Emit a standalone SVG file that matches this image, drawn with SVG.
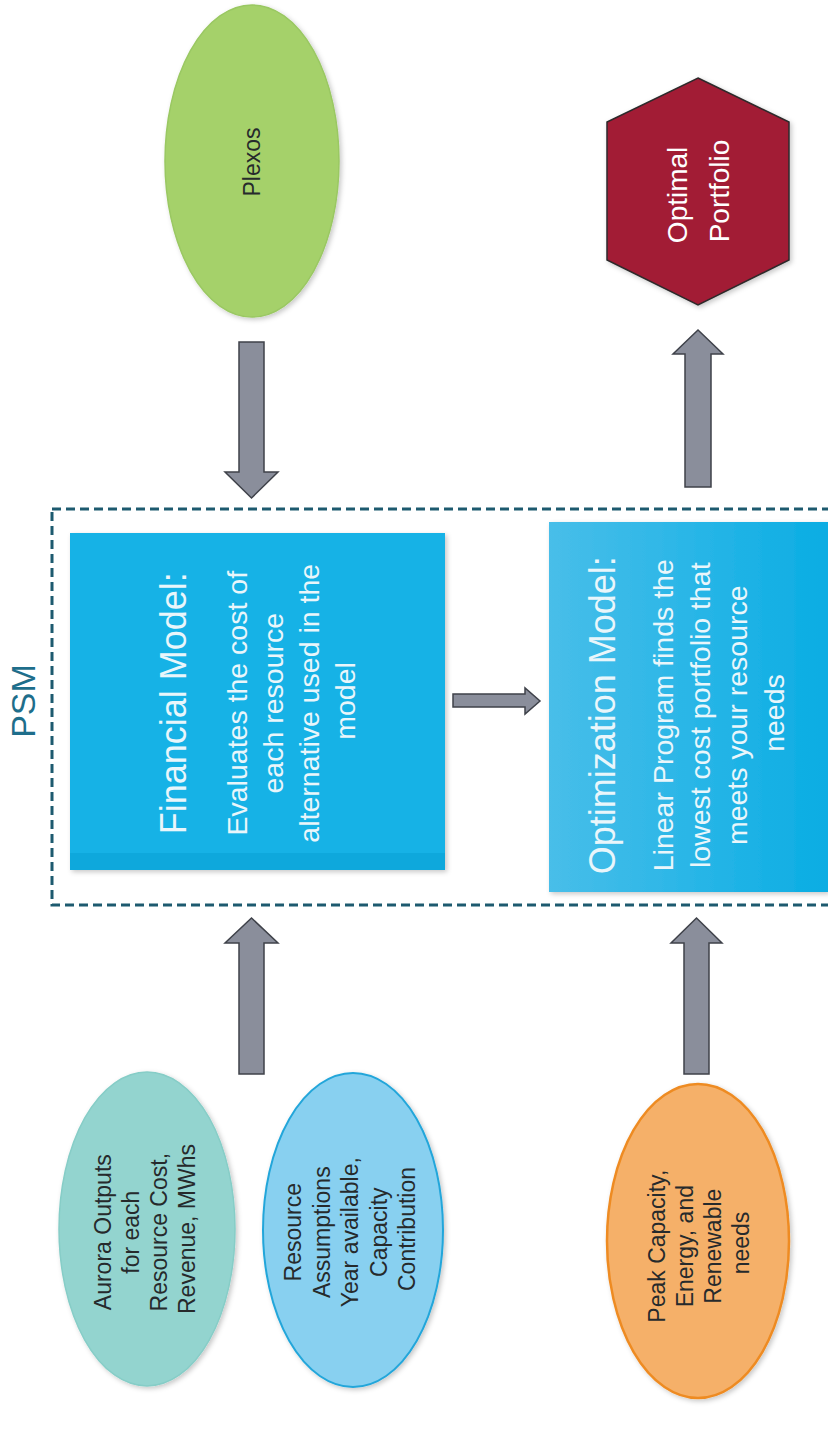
<svg xmlns="http://www.w3.org/2000/svg" width="828" height="1450" viewBox="0 0 828 1450">
  <style>
    .lbl { font-family: "Liberation Sans", Arial, sans-serif; text-anchor: middle; }
    .dark { fill: #262a2c; font-size: 23px; }
    .white { fill: #ffffff; }
    .boxtxt { fill: #e9f6fb; }
    .title { font-size: 36px; }
    .body { font-size: 28.5px; }
    .arrow { fill: #8a8e9b; stroke: #3f424a; stroke-width: 1.5; stroke-linejoin: miter; }
  </style>
  <defs>
    <filter id="sh" x="-20%" y="-20%" width="140%" height="140%">
      <feDropShadow dx="2" dy="2" stdDeviation="2.5" flood-color="#000" flood-opacity="0.22"/>
    </filter>
    <linearGradient id="optg" x1="0" y1="0" x2="1" y2="0">
      <stop offset="0" stop-color="#48bee9"/>
      <stop offset="0.5" stop-color="#2ab6e7"/>
      <stop offset="1" stop-color="#0aade3"/>
    </linearGradient>
  </defs>
  <rect width="828" height="1450" fill="#ffffff"/>

  <!-- PSM container -->
  <g id="psm">
    <rect x="52" y="509" width="800" height="396" fill="none" stroke="#1d5a6f" stroke-width="3" stroke-dasharray="9 5"/>
    <text class="lbl" transform="translate(0,701) rotate(-90)" x="0" y="35" font-size="34" fill="#1e6e8b">PSM</text>
  </g>

  <!-- Plexos -->
  <g id="plexos">
    <ellipse cx="252" cy="161" rx="87" ry="156" fill="#a5d16b" stroke="#9ac862" stroke-width="1.5" filter="url(#sh)"/>
    <text class="lbl dark" transform="translate(0,162) rotate(-90)" x="0" y="260">Plexos</text>
  </g>

  <!-- Optimal Portfolio -->
  <g id="optimal">
    <polygon points="698,78 789,122 789,260 698,305 607,260 607,122" fill="#a21b36" stroke="#2d2a2b" stroke-width="1.5" filter="url(#sh)"/>
    <text class="lbl white" transform="translate(0,191) rotate(-90)" font-size="28">
      <tspan x="0" y="687">Optimal</tspan>
      <tspan x="0" y="729">Portfolio</tspan>
    </text>
  </g>

  <!-- Financial Model -->
  <g id="financial">
    <rect x="70" y="533" width="375" height="337" fill="#12b2e6" filter="url(#sh)"/>
    <rect x="70" y="853" width="375" height="17" fill="#0ea8dc"/>
    <text class="lbl boxtxt" transform="translate(0,701) rotate(-90)">
      <tspan class="title" x="0" y="186">Financial Model:</tspan>
      <tspan class="body" x="0" y="247">Evaluates  the cost of</tspan>
      <tspan class="body" x="0" y="283">each resource</tspan>
      <tspan class="body" x="0" y="319">alternative used in the</tspan>
      <tspan class="body" x="0" y="355">model</tspan>
    </text>
  </g>

  <!-- Optimization Model -->
  <g id="optimization">
    <rect x="549" y="522" width="279" height="370" fill="url(#optg)" filter="url(#sh)"/>
    <text class="lbl boxtxt" transform="translate(0,713) rotate(-90)">
      <tspan class="title" x="0" y="615">Optimization Model:</tspan>
      <tspan class="body" x="0" y="673">Linear Program finds the</tspan>
      <tspan class="body" x="0" y="710">lowest cost portfolio that</tspan>
      <tspan class="body" x="0" y="747">meets your resource</tspan>
      <tspan class="body" x="0" y="784">needs</tspan>
    </text>
  </g>

  <!-- Aurora Outputs -->
  <g id="aurora">
    <ellipse cx="147" cy="1229" rx="88" ry="157" fill="#93d4cf" stroke="#86cdc7" stroke-width="1.5" filter="url(#sh)"/>
    <text class="lbl dark" transform="translate(0,1229) rotate(-90)">
      <tspan x="0" y="111">Aurora Outputs</tspan>
      <tspan x="0" y="139">for each</tspan>
      <tspan x="0" y="167">Resource Cost,</tspan>
      <tspan x="0" y="195">Revenue,  MWhs</tspan>
    </text>
  </g>

  <!-- Resource Assumptions -->
  <g id="assumptions">
    <ellipse cx="353" cy="1230" rx="90" ry="157" fill="#88d0f0" stroke="#24a6da" stroke-width="2" filter="url(#sh)"/>
    <text class="lbl dark" transform="translate(0,1229) rotate(-90)">
      <tspan x="0" y="301">Resource</tspan>
      <tspan x="0" y="330">Assumptions</tspan>
      <tspan x="0" y="358">Year available,</tspan>
      <tspan x="0" y="387">Capacity</tspan>
      <tspan x="0" y="415">Contribution</tspan>
    </text>
  </g>

  <!-- Peak Capacity -->
  <g id="needs">
    <ellipse cx="698" cy="1241" rx="91" ry="157" fill="#f5b069" stroke="#ee8b22" stroke-width="2.5" filter="url(#sh)"/>
    <text class="lbl dark" transform="translate(0,1243) rotate(-90)">
      <tspan x="0" y="665">Peak Capacity,</tspan>
      <tspan x="0" y="693">Energy, and</tspan>
      <tspan x="0" y="721">Renewable</tspan>
      <tspan x="0" y="749">needs</tspan>
    </text>
  </g>

  <!-- Connectors -->
  <g id="connectors">
    <polygon class="arrow" points="239,342 264,342 264,472 278,472 251.5,498 225,472 239,472"/>
    <polygon class="arrow" points="685,487 711,487 711,354 723,354 698,330 673,354 685,354"/>
    <polygon class="arrow" points="453,694 525,694 525,688 540,701 525,714 525,707 453,707"/>
    <polygon class="arrow" points="239,1074 264,1074 264,943 278,943 251.5,918 225,943 239,943"/>
    <polygon class="arrow" points="684,1074 709,1074 709,943 722,943 696.5,918 671,943 684,943"/>
  </g>
</svg>
